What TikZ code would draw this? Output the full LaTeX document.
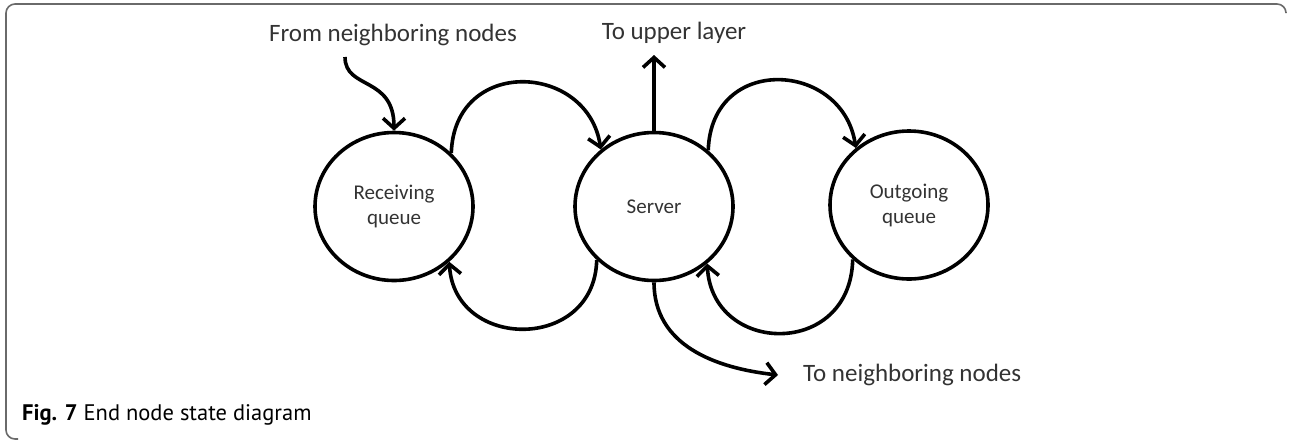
\documentclass[tikz,border=0pt]{standalone}
\usepackage{fontspec}
\setmainfont{Carlito}
\newfontfamily\capfont{PT Sans}
\usetikzlibrary{arrows.meta,shapes.geometric}
\definecolor{txt}{HTML}{333333}
\definecolor{frm}{HTML}{6A6A6A}
\begin{document}
\begin{tikzpicture}[x=1pt,y=-1pt,
  state/.style={draw, ellipse, line width=3.6pt, minimum width=158pt, minimum height=148pt,
    inner sep=0pt, align=center, text=txt, font=\fontsize{21}{25}\selectfont},
  lbl/.style={text=txt, inner sep=0pt, font=\fontsize{25}{30}\selectfont},
  conn/.style={line width=3.6pt, -{Straight Barb[length=10pt,width=22pt]}}]
\useasboundingbox (0,0) rectangle (1289,440);
% frame
\draw[frm, line width=1.6pt, rounded corners=9pt] (18,439) -- (6,439) -- (6,4) -- (1286,4) -- (1286,12);
% states
\node[state] (rq) at (394,206.5) {Receiving\\queue};
\node[state] (sv) at (654,206.5) {Server};
\node[state] (oq) at (909,205) {Outgoing\\queue};
% labels
\node[lbl] (fn) at (393,35) {From neighboring nodes};
\node[lbl] (ul) at (674,33) {To upper layer};
\node[lbl, anchor=west] (tn) at (803,375) {To neighboring nodes};
\coordinate (fnstart) at (345,57);
\coordinate (ulend) at (654,55);
\coordinate (tnend) at (778,375);
% connectors
\draw[conn] (fnstart) .. controls +(0,33) and +(0,-55) .. (rq.north);
\draw[conn] (rq.43) .. controls +(3,-97) and +(-13,-87) .. (sv.133);
\draw[conn] (sv.46) .. controls +(3,-97) and +(-13,-87) .. (oq.133);
\draw[conn] (sv.223) .. controls +(-2,92) and +(5,89) .. (rq.315);
\draw[conn] (oq.224) .. controls +(-2,99) and +(5,92) .. (sv.313);
\draw[conn] (sv.north) -- (ulend);
\draw[conn] (sv.south) .. controls +(0,63) and +(-63,-7) .. (tnend);
% caption
\node[anchor=west, inner sep=0pt, text=black] (cap) at (22,415)
  {\capfont\fontsize{22.5}{26}\selectfont\textbf{Fig. 7} End node state diagram};
\end{tikzpicture}
\end{document}
